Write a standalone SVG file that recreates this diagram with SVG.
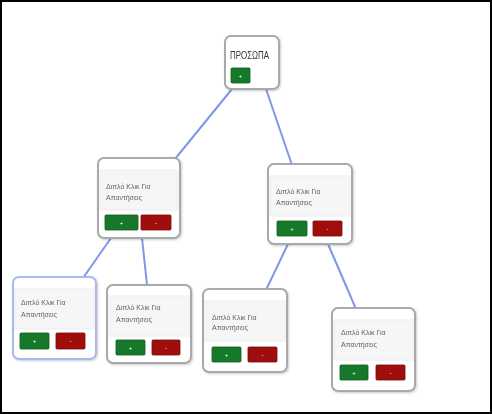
<svg xmlns="http://www.w3.org/2000/svg" width="492" height="414" viewBox="0 0 492 414">
<defs>
<style>
.box{fill:#fff;stroke:#a9a9a9;stroke-width:2}
.sel{stroke:#a9b9ee}
.hdr{fill:#f6f6f6;stroke:#ececec;stroke-width:1}
.t{font-family:"Liberation Sans",Arial,sans-serif;font-size:7px;fill:#5f5f6a}
.rt{font-family:"Liberation Sans",Arial,sans-serif;font-size:11px;fill:#333}
.g{fill:#17782a;stroke:#0f5a1d;stroke-width:0.8}
.r{fill:#a00a0a;stroke:#7a0606;stroke-width:0.8}
.bt{font-family:"Liberation Sans",Arial,sans-serif;font-size:6px;fill:#fff;text-anchor:middle}
.c{stroke:#7e97e8;stroke-width:2;fill:none}
</style>
<filter id="sh" x="-10%" y="-10%" width="130%" height="130%"><feDropShadow dx="1" dy="1" stdDeviation="1" flood-color="#000" flood-opacity="0.2"/></filter>
</defs>
<rect x="0" y="0" width="492" height="414" fill="#fff"/>
<g id="connectors">
<line class="c" x1="232" y1="89" x2="175" y2="159"/>
<line class="c" x1="266" y1="89" x2="292" y2="165"/>
<line class="c" x1="111" y1="238" x2="83" y2="278"/>
<line class="c" x1="142" y1="238" x2="147" y2="285"/>
<line class="c" x1="288" y1="244" x2="266" y2="290"/>
<line class="c" x1="328" y1="244" x2="356" y2="309"/>
</g>
<g id="root" filter="url(#sh)">
<rect class="box" x="225" y="36" width="54" height="53" rx="6"/>
<text class="rt" x="230" y="59" textLength="39" lengthAdjust="spacingAndGlyphs">ΠΡΟΣΩΠΑ</text>
<rect class="g" x="231" y="68" width="19" height="15" rx="1"/>
<text class="bt" x="240.5" y="78">+</text>
</g>
<g id="n1" filter="url(#sh)">
<rect class="box" x="98" y="158" width="82" height="80" rx="6"/>
<rect class="hdr" x="100" y="170" width="78" height="40"/>
<text class="t" x="106" y="189">Διπλό Κλικ Για</text>
<text class="t" x="106" y="200">Απαντήσεις</text>
<rect class="g" x="105" y="215" width="33" height="15" rx="1"/>
<text class="bt" x="121.5" y="225">+</text>
<rect class="r" x="141" y="215" width="30" height="15" rx="1"/>
<text class="bt" x="156" y="225">-</text>
</g>
<g id="n2" filter="url(#sh)">
<rect class="box" x="268" y="164" width="84" height="80" rx="6"/>
<rect class="hdr" x="270" y="176" width="80" height="40"/>
<text class="t" x="276" y="194">Διπλό Κλικ Για</text>
<text class="t" x="276" y="205">Απαντήσεις</text>
<rect class="g" x="277" y="221" width="30" height="15" rx="1"/>
<text class="bt" x="292" y="231">+</text>
<rect class="r" x="313" y="221" width="29" height="15" rx="1"/>
<text class="bt" x="327.5" y="231">-</text>
</g>
<g id="n3" filter="url(#sh)">
<rect class="box sel" x="13" y="277" width="83" height="82" rx="6"/>
<rect class="hdr" x="15" y="289" width="79" height="40"/>
<text class="t" x="21" y="305">Διπλό Κλικ Για</text>
<text class="t" x="21" y="317">Απαντήσεις</text>
<rect class="g" x="20" y="333" width="29" height="16" rx="1"/>
<text class="bt" x="34.5" y="343">+</text>
<rect class="r" x="56" y="333" width="29" height="16" rx="1"/>
<text class="bt" x="70.5" y="343">-</text>
</g>
<g id="n4" filter="url(#sh)">
<rect class="box" x="107" y="285" width="84" height="78" rx="6"/>
<rect class="hdr" x="109" y="296" width="80" height="40"/>
<text class="t" x="116" y="310">Διπλό Κλικ Για</text>
<text class="t" x="116" y="322">Απαντήσεις</text>
<rect class="g" x="116" y="340" width="29" height="15" rx="1"/>
<text class="bt" x="130.5" y="350">+</text>
<rect class="r" x="152" y="340" width="28" height="15" rx="1"/>
<text class="bt" x="166" y="350">-</text>
</g>
<g id="n5" filter="url(#sh)">
<rect class="box" x="203" y="289" width="84" height="83" rx="6"/>
<rect class="hdr" x="205" y="301" width="80" height="40"/>
<text class="t" x="212" y="320">Διπλό Κλικ Για</text>
<text class="t" x="212" y="330">Απαντήσεις</text>
<rect class="g" x="212" y="347" width="29" height="15" rx="1"/>
<text class="bt" x="226.5" y="357">+</text>
<rect class="r" x="248" y="347" width="29" height="15" rx="1"/>
<text class="bt" x="262.5" y="357">-</text>
</g>
<g id="n6" filter="url(#sh)">
<rect class="box" x="332" y="308" width="83" height="83" rx="6"/>
<rect class="hdr" x="334" y="320" width="79" height="40"/>
<text class="t" x="341" y="335">Διπλό Κλικ Για</text>
<text class="t" x="341" y="347">Απαντήσεις</text>
<rect class="g" x="340" y="365" width="28" height="15" rx="1"/>
<text class="bt" x="354" y="375">+</text>
<rect class="r" x="376" y="365" width="29" height="15" rx="1"/>
<text class="bt" x="390.5" y="375">-</text>
</g>
<rect x="1" y="1" width="490" height="412" fill="none" stroke="#000" stroke-width="2"/>
</svg>
